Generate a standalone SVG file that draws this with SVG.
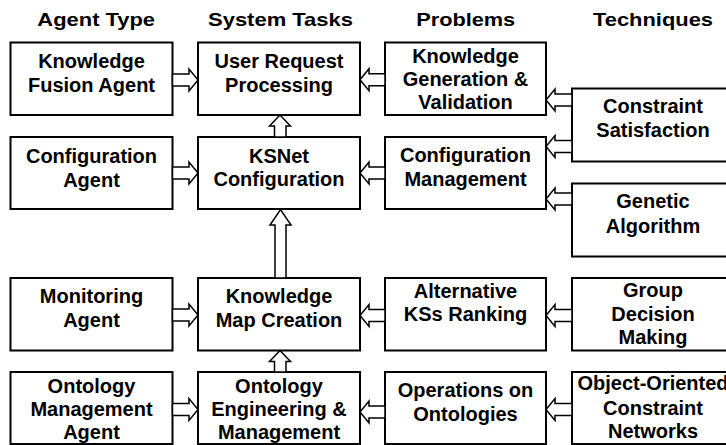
<svg xmlns="http://www.w3.org/2000/svg" width="726" height="445" viewBox="0 0 726 445">
  <style>
    .box { fill: #ffffff; stroke: #000000; stroke-width: 2; }
    .arrow { fill: #ffffff; stroke: #000000; stroke-width: 1.5; stroke-linejoin: miter; }
    text { font-family: "Liberation Sans", Arial, sans-serif; font-weight: bold; fill: #000000; text-anchor: middle; }
    .label { font-size: 20px; }
    .head { font-size: 19px; }
  </style>
  <rect width="726" height="445" fill="#ffffff"/>

  <!-- column headings -->
  <g id="headings">
    <text class="head" x="96.2" y="25.7" textLength="117.7" lengthAdjust="spacingAndGlyphs">Agent Type</text>
    <text class="head" x="280.5" y="25.7" textLength="145" lengthAdjust="spacingAndGlyphs">System Tasks</text>
    <text class="head" x="465.7" y="25.7" textLength="99" lengthAdjust="spacingAndGlyphs">Problems</text>
    <text class="head" x="653" y="25.7" textLength="120" lengthAdjust="spacingAndGlyphs">Techniques</text>
  </g>

  <!-- agent types -->
  <g id="knowledge-fusion-agent">
    <rect class="box" x="10.5" y="42.5" width="162" height="72.5"/>
    <text class="label" x="91.5" y="67.7">Knowledge</text>
    <text class="label" x="91.5" y="92">Fusion Agent</text>
  </g>
  <g id="configuration-agent">
    <rect class="box" x="10.5" y="137" width="162" height="72"/>
    <text class="label" x="91.5" y="162.7">Configuration</text>
    <text class="label" x="91.5" y="186.5">Agent</text>
  </g>
  <g id="monitoring-agent">
    <rect class="box" x="10.5" y="278" width="162" height="72.5"/>
    <text class="label" x="91.5" y="303">Monitoring</text>
    <text class="label" x="91.5" y="327">Agent</text>
  </g>
  <g id="ontology-management-agent">
    <rect class="box" x="10.5" y="372" width="162" height="72"/>
    <text class="label" x="91.5" y="392.7">Ontology</text>
    <text class="label" x="91.5" y="416">Management</text>
    <text class="label" x="91.5" y="439.3">Agent</text>
  </g>

  <!-- system tasks -->
  <g id="user-request-processing">
    <rect class="box" x="198" y="42.5" width="162" height="72.5"/>
    <text class="label" x="279" y="67.7">User Request</text>
    <text class="label" x="279" y="91.7">Processing</text>
  </g>
  <g id="ksnet-configuration">
    <rect class="box" x="198" y="137" width="162" height="72"/>
    <text class="label" x="279" y="163">KSNet</text>
    <text class="label" x="279" y="186.3">Configuration</text>
  </g>
  <g id="knowledge-map-creation">
    <rect class="box" x="198" y="278" width="162" height="72.5"/>
    <text class="label" x="279" y="303">Knowledge</text>
    <text class="label" x="279" y="326.5">Map Creation</text>
  </g>
  <g id="ontology-engineering">
    <rect class="box" x="198" y="372" width="162" height="72"/>
    <text class="label" x="279" y="392.7">Ontology</text>
    <text class="label" x="279" y="416">Engineering &amp;</text>
    <text class="label" x="279" y="439.3">Management</text>
  </g>

  <!-- problems -->
  <g id="knowledge-generation-validation">
    <rect class="box" x="385" y="42.5" width="161" height="72.5"/>
    <text class="label" x="465.5" y="63.3">Knowledge</text>
    <text class="label" x="465.5" y="86.3">Generation &amp;</text>
    <text class="label" x="465.5" y="109.3">Validation</text>
  </g>
  <g id="configuration-management">
    <rect class="box" x="385" y="137" width="161" height="72"/>
    <text class="label" x="465.5" y="162.3">Configuration</text>
    <text class="label" x="465.5" y="185.5">Management</text>
  </g>
  <g id="alternative-ks-ranking">
    <rect class="box" x="385" y="278" width="161" height="72.5"/>
    <text class="label" x="465.5" y="297.7">Alternative</text>
    <text class="label" x="465.5" y="321.3">KSs Ranking</text>
  </g>
  <g id="operations-on-ontologies">
    <rect class="box" x="385" y="372" width="161" height="72"/>
    <text class="label" x="465.5" y="397">Operations on</text>
    <text class="label" x="465.5" y="421">Ontologies</text>
  </g>

  <!-- techniques -->
  <g id="constraint-satisfaction">
    <rect class="box" x="572" y="88.5" width="170" height="73"/>
    <text class="label" x="653" y="113.3">Constraint</text>
    <text class="label" x="653" y="136.7">Satisfaction</text>
  </g>
  <g id="genetic-algorithm">
    <rect class="box" x="572" y="183.5" width="170" height="73"/>
    <text class="label" x="653" y="207.7">Genetic</text>
    <text class="label" x="653" y="232.5">Algorithm</text>
  </g>
  <g id="group-decision-making">
    <rect class="box" x="572" y="278" width="170" height="72.5"/>
    <text class="label" x="653" y="297.3">Group</text>
    <text class="label" x="653" y="321">Decision</text>
    <text class="label" x="653" y="344.3">Making</text>
  </g>
  <g id="object-oriented-constraint-networks">
    <rect class="box" x="572" y="372" width="170" height="72"/>
    <text class="label" x="653" y="390.3">Object-Oriented</text>
    <text class="label" x="653" y="414.7">Constraint</text>
    <text class="label" x="653" y="438">Networks</text>
  </g>

  <!-- block arrows -->
  <g id="connectors">
    <!-- agent type to system task -->
    <path class="arrow" d="M172.5,74 H189 V69 L198,80 L189,91 V86 H172.5 Z"/>
    <path class="arrow" d="M172.5,167 H189 V162 L198,173 L189,184 V179 H172.5 Z"/>
    <path class="arrow" d="M172.5,309 H189 V304 L198,315 L189,326 V321 H172.5 Z"/>
    <path class="arrow" d="M172.5,403.5 H189 V398.5 L198,409.5 L189,420.5 V415.5 H172.5 Z"/>

    <!-- system task chain, bottom to top -->
    <path class="arrow" d="M274.5,137 V126 H269.5 L280,115 L290.5,126 H286 V137 Z"/>
    <path class="arrow" d="M275,278 V225 H270 L280.5,209.5 L291,225 H286 V278 Z"/>
    <path class="arrow" d="M274.5,372 V361.5 H269.5 L280,350.5 L290.5,361.5 H286 V372 Z"/>

    <!-- problem to system task -->
    <path class="arrow" d="M385,73.7 H369 V68.7 L360,79.7 L369,90.7 V85.7 H385 Z"/>
    <path class="arrow" d="M385,167 H369 V162 L360,173 L369,184 V179 H385 Z"/>
    <path class="arrow" d="M385,309.5 H369 V304.5 L360,315.5 L369,326.5 V321.5 H385 Z"/>
    <path class="arrow" d="M385,406 H369 V401 L360,412 L369,423 V418 H385 Z"/>

    <!-- technique to problem -->
    <path class="arrow" d="M572,94 H555 V89 L546,100 L555,111 V106 H572 Z"/>
    <path class="arrow" d="M572,140.5 H555 V135.5 L546,146.5 L555,157.5 V152.5 H572 Z"/>
    <path class="arrow" d="M572,193 H555 V188 L546,199 L555,210 V205 H572 Z"/>
    <path class="arrow" d="M572,309.5 H555 V304.5 L546,315.5 L555,326.5 V321.5 H572 Z"/>
    <path class="arrow" d="M572,403.5 H555 V398.5 L546,409.5 L555,420.5 V415.5 H572 Z"/>
  </g>
</svg>
